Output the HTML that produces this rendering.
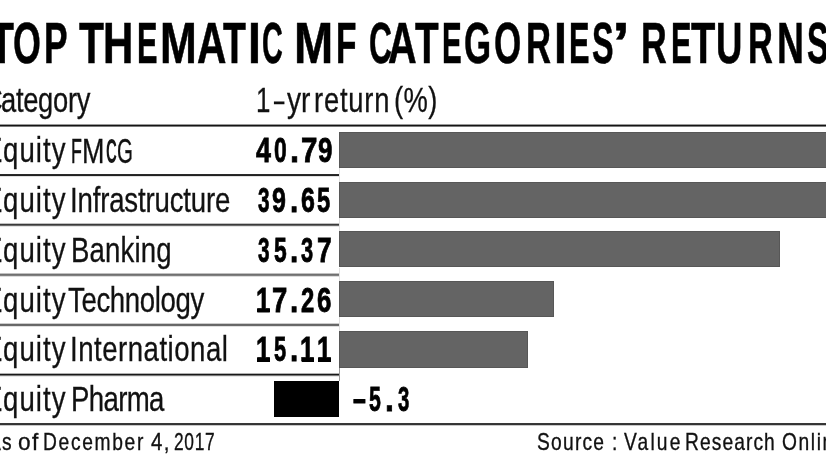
<!DOCTYPE html>
<html><head><meta charset="utf-8"><style>
html,body{margin:0;padding:0;background:#fff;width:826px;height:465px;overflow:hidden}
body{position:relative;filter:grayscale(1)}
body>div{position:absolute}
.t{white-space:pre;font-family:"Liberation Sans",sans-serif;color:#111;transform-origin:0 0}
</style></head><body>
<div style="left:0px;top:124px;width:826px;height:3px;background:#9a9a9a;background:linear-gradient(#9a9a9a 0px 1px,#141414 1px 2px,#7a7a7a 2px 3px)"></div>
<div style="left:0px;top:174px;width:339px;height:3px;background:#2a2a2a;background:linear-gradient(#2a2a2a 0px 1px,#222 1px 2px,#e2e2e2 2px 3px)"></div>
<div style="left:0px;top:223px;width:339px;height:4px;background:#c0c0c0;background:linear-gradient(#c0c0c0 0px 1px,#3a3a3a 1px 2px,#6a6a6a 2px 3px,#e4e4e4 3px 4px)"></div>
<div style="left:0px;top:273px;width:339px;height:4px;background:#c0c0c0;background:linear-gradient(#c0c0c0 0px 1px,#707070 1px 2px,#808080 2px 3px,#dcdcdc 3px 4px)"></div>
<div style="left:0px;top:323px;width:339px;height:4px;background:#cccccc;background:linear-gradient(#cccccc 0px 1px,#666 1px 2px,#6a6a6a 2px 3px,#e0e0e0 3px 4px)"></div>
<div style="left:0px;top:373px;width:339px;height:4px;background:#b0b0b0;background:linear-gradient(#b0b0b0 0px 1px,#181818 1px 2px,#777 2px 3px,#e8e8e8 3px 4px)"></div>
<div style="left:0px;top:423px;width:826px;height:3px;background:#383838;background:linear-gradient(#383838 0px 1px,#333 1px 2px,#c8c8c8 2px 3px)"></div>
<div style="left:339px;top:132px;width:561px;height:36px;background:#646464;box-sizing:border-box;border:1px solid #575757"></div>
<div style="left:339px;top:181.6px;width:561px;height:36.400000000000006px;background:#646464;box-sizing:border-box;border:1px solid #575757"></div>
<div style="left:339px;top:231.4px;width:441.20000000000005px;height:36.099999999999994px;background:#646464;box-sizing:border-box;border:1px solid #575757"></div>
<div style="left:339px;top:280.6px;width:215px;height:36.69999999999999px;background:#646464;box-sizing:border-box;border:1px solid #575757"></div>
<div style="left:339px;top:330.8px;width:189px;height:37.19999999999999px;background:#646464;box-sizing:border-box;border:1px solid #575757"></div>
<div style="left:273.6px;top:381.3px;width:65.89999999999998px;height:36.099999999999966px;background:#000;"></div>
<div style="left:339px;top:168px;width:1px;height:13.599999999999994px;background:#e2e2e2;"></div>
<div style="left:339px;top:218px;width:1px;height:13.400000000000006px;background:#e2e2e2;"></div>
<div style="left:339px;top:267.5px;width:1px;height:13.100000000000023px;background:#e2e2e2;"></div>
<div style="left:339px;top:317.3px;width:1px;height:13.5px;background:#e2e2e2;"></div>
<div style="left:339px;top:368px;width:1px;height:13.3px;background:#999;"></div>
<div style="left:257.2px;top:308.5px;width:12.4px;height:3.6px;background:#000;"></div>
<div style="left:257.2px;top:358.2px;width:12.4px;height:3.6px;background:#000;"></div>
<div style="left:301.9px;top:358.2px;width:11.9px;height:3.6px;background:#000;"></div>
<div style="left:318.4px;top:358.2px;width:12.4px;height:3.6px;background:#000;"></div>
<div class="t" style="left:-10.32px;top:13.71px;font-weight:700;font-size:58.1px;line-height:58.1px;letter-spacing:0px;transform:scaleX(0.675);-webkit-text-stroke:0.6px #000;color:#000">T</div>
<div class="t" style="left:12.77px;top:13.71px;font-weight:700;font-size:58.1px;line-height:58.1px;letter-spacing:0px;transform:scaleX(0.6171);-webkit-text-stroke:0.6px #000;color:#000">O</div>
<div class="t" style="left:44.07px;top:13.71px;font-weight:700;font-size:58.1px;line-height:58.1px;letter-spacing:0px;transform:scaleX(0.6088);-webkit-text-stroke:0.6px #000;color:#000">P</div>
<div class="t" style="left:78.6px;top:13.71px;font-weight:700;font-size:58.1px;line-height:58.1px;letter-spacing:0px;transform:scaleX(0.7029);-webkit-text-stroke:0.6px #000;color:#000">T</div>
<div class="t" style="left:102.53px;top:13.71px;font-weight:700;font-size:58.1px;line-height:58.1px;letter-spacing:0px;transform:scaleX(0.7229);-webkit-text-stroke:0.6px #000;color:#000">H</div>
<div class="t" style="left:137.01px;top:13.71px;font-weight:700;font-size:58.1px;line-height:58.1px;letter-spacing:0px;transform:scaleX(0.5294);-webkit-text-stroke:0.6px #000;color:#000">E</div>
<div class="t" style="left:160.32px;top:13.71px;font-weight:700;font-size:58.1px;line-height:58.1px;letter-spacing:0px;transform:scaleX(0.7595);-webkit-text-stroke:0.6px #000;color:#000">M</div>
<div class="t" style="left:197.3px;top:13.71px;font-weight:700;font-size:58.1px;line-height:58.1px;letter-spacing:0px;transform:scaleX(0.7);-webkit-text-stroke:0.6px #000;color:#000">A</div>
<div class="t" style="left:223.3px;top:13.71px;font-weight:700;font-size:58.1px;line-height:58.1px;letter-spacing:0px;transform:scaleX(0.6457);-webkit-text-stroke:0.6px #000;color:#000">T</div>
<div class="t" style="left:247.5px;top:13.71px;font-weight:700;font-size:58.1px;line-height:58.1px;letter-spacing:0px;transform:scaleX(0.8);-webkit-text-stroke:0.6px #000;color:#000">I</div>
<div class="t" style="left:261.61px;top:13.71px;font-weight:700;font-size:58.1px;line-height:58.1px;letter-spacing:0px;transform:scaleX(0.4949);-webkit-text-stroke:0.6px #000;color:#000">C</div>
<div class="t" style="left:293.57px;top:13.71px;font-weight:700;font-size:58.1px;line-height:58.1px;letter-spacing:0px;transform:scaleX(0.8095);-webkit-text-stroke:0.6px #000;color:#000">M</div>
<div class="t" style="left:335.57px;top:13.71px;font-weight:700;font-size:58.1px;line-height:58.1px;letter-spacing:0px;transform:scaleX(0.5774);-webkit-text-stroke:0.6px #000;color:#000">F</div>
<div class="t" style="left:368.81px;top:13.71px;font-weight:700;font-size:58.1px;line-height:58.1px;letter-spacing:0px;transform:scaleX(0.5462);-webkit-text-stroke:0.6px #000;color:#000">C</div>
<div class="t" style="left:388.32px;top:13.71px;font-weight:700;font-size:58.1px;line-height:58.1px;letter-spacing:0px;transform:scaleX(0.6825);-webkit-text-stroke:0.6px #000;color:#000">A</div>
<div class="t" style="left:415.0px;top:13.71px;font-weight:700;font-size:58.1px;line-height:58.1px;letter-spacing:0px;transform:scaleX(0.6657);-webkit-text-stroke:0.6px #000;color:#000">T</div>
<div class="t" style="left:442.07px;top:13.71px;font-weight:700;font-size:58.1px;line-height:58.1px;letter-spacing:0px;transform:scaleX(0.5088);-webkit-text-stroke:0.6px #000;color:#000">E</div>
<div class="t" style="left:463.7px;top:13.71px;font-weight:700;font-size:58.1px;line-height:58.1px;letter-spacing:0px;transform:scaleX(0.6);-webkit-text-stroke:0.6px #000;color:#000">G</div>
<div class="t" style="left:494.1px;top:13.71px;font-weight:700;font-size:58.1px;line-height:58.1px;letter-spacing:0px;transform:scaleX(0.6024);-webkit-text-stroke:0.6px #000;color:#000">O</div>
<div class="t" style="left:525.52px;top:13.71px;font-weight:700;font-size:58.1px;line-height:58.1px;letter-spacing:0px;transform:scaleX(0.5947);-webkit-text-stroke:0.6px #000;color:#000">R</div>
<div class="t" style="left:553.5px;top:13.71px;font-weight:700;font-size:58.1px;line-height:58.1px;letter-spacing:0px;transform:scaleX(0.8);-webkit-text-stroke:0.6px #000;color:#000">I</div>
<div class="t" style="left:568.91px;top:13.71px;font-weight:700;font-size:58.1px;line-height:58.1px;letter-spacing:0px;transform:scaleX(0.5294);-webkit-text-stroke:0.6px #000;color:#000">E</div>
<div class="t" style="left:592.04px;top:13.71px;font-weight:700;font-size:58.1px;line-height:58.1px;letter-spacing:0px;transform:scaleX(0.5556);-webkit-text-stroke:0.6px #000;color:#000">S</div>
<div class="t" style="left:612.16px;top:13.71px;font-weight:700;font-size:58.1px;line-height:58.1px;letter-spacing:0px;transform:scaleX(1.1111);-webkit-text-stroke:0.6px #000;color:#000">’</div>
<div class="t" style="left:640.76px;top:13.71px;font-weight:700;font-size:58.1px;line-height:58.1px;letter-spacing:0px;transform:scaleX(0.6132);-webkit-text-stroke:0.6px #000;color:#000">R</div>
<div class="t" style="left:670.71px;top:13.71px;font-weight:700;font-size:58.1px;line-height:58.1px;letter-spacing:0px;transform:scaleX(0.5294);-webkit-text-stroke:0.6px #000;color:#000">E</div>
<div class="t" style="left:691.0px;top:13.71px;font-weight:700;font-size:58.1px;line-height:58.1px;letter-spacing:0px;transform:scaleX(0.6857);-webkit-text-stroke:0.6px #000;color:#000">T</div>
<div class="t" style="left:716.42px;top:13.71px;font-weight:700;font-size:58.1px;line-height:58.1px;letter-spacing:0px;transform:scaleX(0.6278);-webkit-text-stroke:0.6px #000;color:#000">U</div>
<div class="t" style="left:747.52px;top:13.71px;font-weight:700;font-size:58.1px;line-height:58.1px;letter-spacing:0px;transform:scaleX(0.5921);-webkit-text-stroke:0.6px #000;color:#000">R</div>
<div class="t" style="left:777.07px;top:13.71px;font-weight:700;font-size:58.1px;line-height:58.1px;letter-spacing:0px;transform:scaleX(0.6429);-webkit-text-stroke:0.6px #000;color:#000">N</div>
<div class="t" style="left:807.44px;top:13.71px;font-weight:700;font-size:58.1px;line-height:58.1px;letter-spacing:0px;transform:scaleX(0.5556);-webkit-text-stroke:0.6px #000;color:#000">S</div>
<div class="t" style="left:-16.7px;top:83.04px;font-weight:400;font-size:34.2px;line-height:34.2px;letter-spacing:0px;transform:scaleX(0.8);-webkit-text-stroke:0.3px #111">C</div>
<div class="t" style="left:1.4px;top:83.04px;font-weight:400;font-size:34.2px;line-height:34.2px;letter-spacing:-0.375px;transform:scaleX(0.8);-webkit-text-stroke:0.3px #111">ategory</div>
<div class="t" style="left:256.09px;top:83.04px;font-weight:400;font-size:34.2px;line-height:34.2px;letter-spacing:0px;transform:scaleX(0.7562);-webkit-text-stroke:0.3px #111">1</div>
<div class="t" style="left:273.9px;top:83.04px;font-weight:400;font-size:34.2px;line-height:34.2px;letter-spacing:0px;transform:scaleX(0.5421);-webkit-text-stroke:0.3px #111">–</div>
<div class="t" style="left:287.2px;top:83.04px;font-weight:400;font-size:34.2px;line-height:34.2px;letter-spacing:0px;transform:scaleX(0.825);-webkit-text-stroke:0.3px #111">yr</div>
<div class="t" style="left:313.8px;top:83.04px;font-weight:400;font-size:34.2px;line-height:34.2px;letter-spacing:0.975px;transform:scaleX(0.8);-webkit-text-stroke:0.3px #111">return</div>
<div class="t" style="left:394.4px;top:83.04px;font-weight:400;font-size:34.2px;line-height:34.2px;letter-spacing:0.437px;transform:scaleX(0.8);-webkit-text-stroke:0.3px #111">(%)</div>
<div class="t" style="left:-16.0px;top:133.19px;font-weight:400;font-size:34.5px;line-height:34.5px;letter-spacing:0px;transform:scaleX(0.8);-webkit-text-stroke:0.3px #111">E</div>
<div class="t" style="left:2.6px;top:133.19px;font-weight:400;font-size:34.5px;line-height:34.5px;letter-spacing:1.344px;transform:scaleX(0.8);-webkit-text-stroke:0.3px #111">quity</div>
<div class="t" style="left:-16.0px;top:182.99px;font-weight:400;font-size:34.5px;line-height:34.5px;letter-spacing:0px;transform:scaleX(0.8);-webkit-text-stroke:0.3px #111">E</div>
<div class="t" style="left:2.6px;top:182.99px;font-weight:400;font-size:34.5px;line-height:34.5px;letter-spacing:1.344px;transform:scaleX(0.8);-webkit-text-stroke:0.3px #111">quity</div>
<div class="t" style="left:70.3px;top:182.99px;font-weight:400;font-size:34.5px;line-height:34.5px;letter-spacing:-0.221px;transform:scaleX(0.8);-webkit-text-stroke:0.3px #111">Infrastructure</div>
<div class="t" style="left:-16.0px;top:232.79px;font-weight:400;font-size:34.5px;line-height:34.5px;letter-spacing:0px;transform:scaleX(0.8);-webkit-text-stroke:0.3px #111">E</div>
<div class="t" style="left:2.6px;top:232.79px;font-weight:400;font-size:34.5px;line-height:34.5px;letter-spacing:1.344px;transform:scaleX(0.8);-webkit-text-stroke:0.3px #111">quity</div>
<div class="t" style="left:70.7px;top:232.79px;font-weight:400;font-size:34.5px;line-height:34.5px;letter-spacing:0.188px;transform:scaleX(0.8);-webkit-text-stroke:0.3px #111">Banking</div>
<div class="t" style="left:-16.0px;top:282.59px;font-weight:400;font-size:34.5px;line-height:34.5px;letter-spacing:0px;transform:scaleX(0.8);-webkit-text-stroke:0.3px #111">E</div>
<div class="t" style="left:2.6px;top:282.59px;font-weight:400;font-size:34.5px;line-height:34.5px;letter-spacing:1.344px;transform:scaleX(0.8);-webkit-text-stroke:0.3px #111">quity</div>
<div class="t" style="left:68.4px;top:282.59px;font-weight:400;font-size:34.5px;line-height:34.5px;letter-spacing:-0.472px;transform:scaleX(0.8);-webkit-text-stroke:0.3px #111">Technology</div>
<div class="t" style="left:-16.0px;top:332.39px;font-weight:400;font-size:34.5px;line-height:34.5px;letter-spacing:0px;transform:scaleX(0.8);-webkit-text-stroke:0.3px #111">E</div>
<div class="t" style="left:2.6px;top:332.39px;font-weight:400;font-size:34.5px;line-height:34.5px;letter-spacing:1.344px;transform:scaleX(0.8);-webkit-text-stroke:0.3px #111">quity</div>
<div class="t" style="left:70.3px;top:332.39px;font-weight:400;font-size:34.5px;line-height:34.5px;letter-spacing:0.625px;transform:scaleX(0.8);-webkit-text-stroke:0.3px #111">International</div>
<div class="t" style="left:-16.0px;top:382.19px;font-weight:400;font-size:34.5px;line-height:34.5px;letter-spacing:0px;transform:scaleX(0.8);-webkit-text-stroke:0.3px #111">E</div>
<div class="t" style="left:2.6px;top:382.19px;font-weight:400;font-size:34.5px;line-height:34.5px;letter-spacing:1.344px;transform:scaleX(0.8);-webkit-text-stroke:0.3px #111">quity</div>
<div class="t" style="left:70.7px;top:382.19px;font-weight:400;font-size:34.5px;line-height:34.5px;letter-spacing:-0.825px;transform:scaleX(0.8);-webkit-text-stroke:0.3px #111">Pharma</div>
<div class="t" style="left:-11.6px;top:430.28px;font-weight:400;font-size:24px;line-height:24px;letter-spacing:0px;transform:scaleX(0.8);-webkit-text-stroke:0.35px #111">A</div>
<div class="t" style="left:2.1px;top:430.28px;font-weight:400;font-size:24px;line-height:24px;letter-spacing:0px;transform:scaleX(0.8);-webkit-text-stroke:0.35px #111">s</div>
<div class="t" style="left:17.56px;top:430.28px;font-weight:400;font-size:24px;line-height:24px;letter-spacing:1.5px;transform:scaleX(0.9415);-webkit-text-stroke:0.35px #111">of</div>
<div class="t" style="left:42.7px;top:430.28px;font-weight:400;font-size:24px;line-height:24px;letter-spacing:2.107px;transform:scaleX(0.8);-webkit-text-stroke:0.35px #111">December</div>
<div class="t" style="left:150.9px;top:430.28px;font-weight:400;font-size:24px;line-height:24px;letter-spacing:1.5px;transform:scaleX(0.8513);-webkit-text-stroke:0.35px #111">4,</div>
<div class="t" style="left:174.28px;top:430.28px;font-weight:400;font-size:24px;line-height:24px;letter-spacing:1.0px;transform:scaleX(0.7222);-webkit-text-stroke:0.35px #111">2017</div>
<div class="t" style="left:537.4px;top:430.28px;font-weight:400;font-size:24px;line-height:24px;letter-spacing:1.55px;transform:scaleX(0.8);-webkit-text-stroke:0.35px #111">Source</div>
<div class="t" style="left:612.3px;top:430.28px;font-weight:400;font-size:24px;line-height:24px;letter-spacing:0px;transform:scaleX(0.8);-webkit-text-stroke:0.35px #111">:</div>
<div class="t" style="left:623.6px;top:430.28px;font-weight:400;font-size:24px;line-height:24px;letter-spacing:2.719px;transform:scaleX(0.8);-webkit-text-stroke:0.35px #111">Value</div>
<div class="t" style="left:685.3px;top:430.28px;font-weight:400;font-size:24px;line-height:24px;letter-spacing:1.357px;transform:scaleX(0.8);-webkit-text-stroke:0.35px #111">Research</div>
<div class="t" style="left:781.7px;top:430.28px;font-weight:400;font-size:24px;line-height:24px;letter-spacing:2.0px;transform:scaleX(0.8);-webkit-text-stroke:0.35px #111">Online</div>
<div class="t" style="left:256.2px;top:132.85px;font-weight:700;font-size:34.9px;line-height:34.9px;letter-spacing:0px;transform:scaleX(0.77);color:#000;-webkit-text-stroke:0.8px #000">4</div>
<div class="t" style="left:274.04px;top:132.85px;font-weight:700;font-size:34.9px;line-height:34.9px;letter-spacing:0px;transform:scaleX(0.6556);color:#000;-webkit-text-stroke:0.8px #000">0</div>
<div class="t" style="left:289.83px;top:132.85px;font-weight:700;font-size:34.9px;line-height:34.9px;letter-spacing:0px;transform:scaleX(0.9333);color:#000;-webkit-text-stroke:0.8px #000">.</div>
<div class="t" style="left:300.55px;top:132.85px;font-weight:700;font-size:34.9px;line-height:34.9px;letter-spacing:0px;transform:scaleX(0.8471);color:#000;-webkit-text-stroke:0.8px #000">7</div>
<div class="t" style="left:317.66px;top:132.85px;font-weight:700;font-size:34.9px;line-height:34.9px;letter-spacing:0px;transform:scaleX(0.7444);color:#000;-webkit-text-stroke:0.8px #000">9</div>
<div class="t" style="left:257.7px;top:182.85px;font-weight:700;font-size:34.9px;line-height:34.9px;letter-spacing:0px;transform:scaleX(0.5947);color:#000;-webkit-text-stroke:0.8px #000">3</div>
<div class="t" style="left:272.38px;top:182.85px;font-weight:700;font-size:34.9px;line-height:34.9px;letter-spacing:0px;transform:scaleX(0.7167);color:#000;-webkit-text-stroke:0.8px #000">9</div>
<div class="t" style="left:290.0px;top:182.85px;font-weight:700;font-size:34.9px;line-height:34.9px;letter-spacing:0px;transform:scaleX(0.85);color:#000;-webkit-text-stroke:0.8px #000">.</div>
<div class="t" style="left:300.68px;top:182.85px;font-weight:700;font-size:34.9px;line-height:34.9px;letter-spacing:0px;transform:scaleX(0.7167);color:#000;-webkit-text-stroke:0.8px #000">6</div>
<div class="t" style="left:317.22px;top:182.85px;font-weight:700;font-size:34.9px;line-height:34.9px;letter-spacing:0px;transform:scaleX(0.6833);color:#000;-webkit-text-stroke:0.8px #000">5</div>
<div class="t" style="left:257.7px;top:232.55px;font-weight:700;font-size:34.9px;line-height:34.9px;letter-spacing:0px;transform:scaleX(0.5947);color:#000;-webkit-text-stroke:0.8px #000">3</div>
<div class="t" style="left:273.54px;top:232.55px;font-weight:700;font-size:34.9px;line-height:34.9px;letter-spacing:0px;transform:scaleX(0.6556);color:#000;-webkit-text-stroke:0.8px #000">5</div>
<div class="t" style="left:290.0px;top:232.55px;font-weight:700;font-size:34.9px;line-height:34.9px;letter-spacing:0px;transform:scaleX(0.85);color:#000;-webkit-text-stroke:0.8px #000">.</div>
<div class="t" style="left:301.4px;top:232.55px;font-weight:700;font-size:34.9px;line-height:34.9px;letter-spacing:0px;transform:scaleX(0.6263);color:#000;-webkit-text-stroke:0.8px #000">3</div>
<div class="t" style="left:317.14px;top:232.55px;font-weight:700;font-size:34.9px;line-height:34.9px;letter-spacing:0px;transform:scaleX(0.7588);color:#000;-webkit-text-stroke:0.8px #000">7</div>
<div class="t" style="left:255.74px;top:282.55px;font-weight:700;font-size:34.9px;line-height:34.9px;letter-spacing:0px;transform:scaleX(0.73);color:#000;-webkit-text-stroke:0.8px #000">1</div>
<div class="t" style="left:272.31px;top:282.55px;font-weight:700;font-size:34.9px;line-height:34.9px;letter-spacing:0px;transform:scaleX(0.7882);color:#000;-webkit-text-stroke:0.8px #000">7</div>
<div class="t" style="left:290.0px;top:282.55px;font-weight:700;font-size:34.9px;line-height:34.9px;letter-spacing:0px;transform:scaleX(0.85);color:#000;-webkit-text-stroke:0.8px #000">.</div>
<div class="t" style="left:301.32px;top:282.55px;font-weight:700;font-size:34.9px;line-height:34.9px;letter-spacing:0px;transform:scaleX(0.6833);color:#000;-webkit-text-stroke:0.8px #000">2</div>
<div class="t" style="left:317.16px;top:282.55px;font-weight:700;font-size:34.9px;line-height:34.9px;letter-spacing:0px;transform:scaleX(0.7444);color:#000;-webkit-text-stroke:0.8px #000">6</div>
<div class="t" style="left:255.74px;top:332.25px;font-weight:700;font-size:34.9px;line-height:34.9px;letter-spacing:0px;transform:scaleX(0.73);color:#000;-webkit-text-stroke:0.8px #000">1</div>
<div class="t" style="left:274.07px;top:332.25px;font-weight:700;font-size:34.9px;line-height:34.9px;letter-spacing:0px;transform:scaleX(0.6278);color:#000;-webkit-text-stroke:0.8px #000">5</div>
<div class="t" style="left:290.0px;top:332.25px;font-weight:700;font-size:34.9px;line-height:34.9px;letter-spacing:0px;transform:scaleX(0.85);color:#000;-webkit-text-stroke:0.8px #000">.</div>
<div class="t" style="left:300.18px;top:332.25px;font-weight:700;font-size:34.9px;line-height:34.9px;letter-spacing:0px;transform:scaleX(0.73);color:#000;-webkit-text-stroke:0.8px #000">1</div>
<div class="t" style="left:316.94px;top:332.25px;font-weight:700;font-size:34.9px;line-height:34.9px;letter-spacing:0px;transform:scaleX(0.73);color:#000;-webkit-text-stroke:0.8px #000">1</div>
<div class="t" style="left:353.24px;top:381.85px;font-weight:700;font-size:34.9px;line-height:34.9px;letter-spacing:0px;transform:scaleX(0.6611);color:#000;-webkit-text-stroke:0.8px #000">–</div>
<div class="t" style="left:368.99px;top:381.85px;font-weight:700;font-size:34.9px;line-height:34.9px;letter-spacing:0px;transform:scaleX(0.6111);color:#000;-webkit-text-stroke:0.8px #000">5</div>
<div class="t" style="left:385.17px;top:381.85px;font-weight:700;font-size:34.9px;line-height:34.9px;letter-spacing:0px;transform:scaleX(0.9167);color:#000;-webkit-text-stroke:0.8px #000">.</div>
<div class="t" style="left:397.5px;top:381.85px;font-weight:700;font-size:34.9px;line-height:34.9px;letter-spacing:0px;transform:scaleX(0.5842);color:#000;-webkit-text-stroke:0.8px #000">3</div>
<div class="t" style="left:71.28px;top:132.6px;font-weight:400;font-size:35.2px;line-height:35.2px;letter-spacing:0px;transform:scaleX(0.5059);-webkit-text-stroke:0.6px #111">F</div>
<div class="t" style="left:82.3px;top:132.6px;font-weight:400;font-size:35.2px;line-height:35.2px;letter-spacing:0px;transform:scaleX(0.7667);-webkit-text-stroke:0.3px #111">M</div>
<div class="t" style="left:116.83px;top:132.6px;font-weight:400;font-size:35.2px;line-height:35.2px;letter-spacing:0px;transform:scaleX(0.5826);-webkit-text-stroke:0.3px #111">G</div>
<div class="t" style="left:106.17px;top:132.6px;font-weight:700;font-size:35.2px;line-height:35.2px;letter-spacing:0px;transform:scaleX(0.4261);color:#161616">C</div>
</body></html>
